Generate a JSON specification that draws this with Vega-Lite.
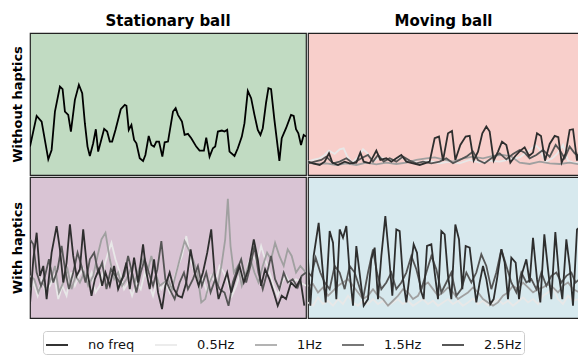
{
"$schema": "https://vega.github.io/schema/vega-lite/v6.json",
"padding": {"left": 10, "top": 13, "right": 0, "bottom": 0},
"background": "white",
"config": {
 "font": "DejaVu Sans",
 "title": {"fontSize": 15, "fontWeight": "bold", "font": "DejaVu Sans", "offset": 0, "color": "#000000"},
 "legend": {"strokeColor": "#cccccc", "cornerRadius": 3, "padding": 2, "fillColor": "white", "labelFont": "DejaVu Sans", "labelFontSize": 13, "labelColor": "#111111", "columnPadding": 16, "labelOffset": 19, "symbolType": "stroke", "symbolSize": 484, "symbolStrokeWidth": 1.6, "title": null}
},
"datasets": {
"tl": [
{"s":"no freq","t":5,"v":85},{"s":"no freq","t":25,"v":177},{"s":"no freq","t":40,"v":160},{"s":"no freq","t":60,"v":47},{"s":"no freq","t":70,"v":75},{"s":"no freq","t":80,"v":190},{"s":"no freq","t":95,"v":265},{"s":"no freq","t":103,"v":257},{"s":"no freq","t":110,"v":190},{"s":"no freq","t":120,"v":180},{"s":"no freq","t":128,"v":130},{"s":"no freq","t":140,"v":225},{"s":"no freq","t":152,"v":270},{"s":"no freq","t":162,"v":245},{"s":"no freq","t":170,"v":155},{"s":"no freq","t":178,"v":85},{"s":"no freq","t":185,"v":57},{"s":"no freq","t":195,"v":95},{"s":"no freq","t":203,"v":137},{"s":"no freq","t":210,"v":70},{"s":"no freq","t":218,"v":100},{"s":"no freq","t":228,"v":138},{"s":"no freq","t":237,"v":130},{"s":"no freq","t":245,"v":100},{"s":"no freq","t":252,"v":100},{"s":"no freq","t":262,"v":135},{"s":"no freq","t":278,"v":197},{"s":"no freq","t":290,"v":210},{"s":"no freq","t":295,"v":207},{"s":"no freq","t":302,"v":135},{"s":"no freq","t":310,"v":150},{"s":"no freq","t":318,"v":105},{"s":"no freq","t":325,"v":95},{"s":"no freq","t":335,"v":50},{"s":"no freq","t":345,"v":42},{"s":"no freq","t":352,"v":60},{"s":"no freq","t":362,"v":117},{"s":"no freq","t":370,"v":90},{"s":"no freq","t":378,"v":85},{"s":"no freq","t":385,"v":100},{"s":"no freq","t":393,"v":100},{"s":"no freq","t":403,"v":55},{"s":"no freq","t":410,"v":98},{"s":"no freq","t":420,"v":100},{"s":"no freq","t":435,"v":190},{"s":"no freq","t":443,"v":200},{"s":"no freq","t":450,"v":180},{"s":"no freq","t":462,"v":160},{"s":"no freq","t":470,"v":120},{"s":"no freq","t":480,"v":123},{"s":"no freq","t":490,"v":110},{"s":"no freq","t":505,"v":85},{"s":"no freq","t":515,"v":73},{"s":"no freq","t":528,"v":73},{"s":"no freq","t":535,"v":112},{"s":"no freq","t":545,"v":55},{"s":"no freq","t":555,"v":80},{"s":"no freq","t":562,"v":85},{"s":"no freq","t":570,"v":130},{"s":"no freq","t":582,"v":133},{"s":"no freq","t":590,"v":130},{"s":"no freq","t":598,"v":135},{"s":"no freq","t":605,"v":70},{"s":"no freq","t":620,"v":57},{"s":"no freq","t":630,"v":80},{"s":"no freq","t":642,"v":115},{"s":"no freq","t":650,"v":155},{"s":"no freq","t":660,"v":252},{"s":"no freq","t":670,"v":230},{"s":"no freq","t":680,"v":180},{"s":"no freq","t":690,"v":135},{"s":"no freq","t":698,"v":120},{"s":"no freq","t":705,"v":140},{"s":"no freq","t":715,"v":217},{"s":"no freq","t":722,"v":260},{"s":"no freq","t":730,"v":257},{"s":"no freq","t":740,"v":165},{"s":"no freq","t":755,"v":42},{"s":"no freq","t":762,"v":110},{"s":"no freq","t":775,"v":140},{"s":"no freq","t":790,"v":180},{"s":"no freq","t":798,"v":177},{"s":"no freq","t":805,"v":137},{"s":"no freq","t":812,"v":125},{"s":"no freq","t":820,"v":90},{"s":"no freq","t":828,"v":120},{"s":"no freq","t":835,"v":115}
],
"tr": [
{"s":"0.5Hz","t":5,"v":40},{"s":"0.5Hz","t":20,"v":45},{"s":"0.5Hz","t":40,"v":50},{"s":"0.5Hz","t":55,"v":60},{"s":"0.5Hz","t":68,"v":73},{"s":"0.5Hz","t":85,"v":63},{"s":"0.5Hz","t":100,"v":77},{"s":"0.5Hz","t":112,"v":80},{"s":"0.5Hz","t":122,"v":57},{"s":"0.5Hz","t":137,"v":37},{"s":"0.5Hz","t":155,"v":53},{"s":"0.5Hz","t":170,"v":77},{"s":"0.5Hz","t":185,"v":63},{"s":"0.5Hz","t":200,"v":40},{"s":"0.5Hz","t":220,"v":53},{"s":"0.5Hz","t":240,"v":47},{"s":"0.5Hz","t":260,"v":43},{"s":"0.5Hz","t":280,"v":55},{"s":"0.5Hz","t":295,"v":47},{"s":"0.5Hz","t":315,"v":40},{"s":"0.5Hz","t":340,"v":37},{"s":"0.5Hz","t":360,"v":43},{"s":"0.5Hz","t":380,"v":40},{"s":"0.5Hz","t":400,"v":35},{"s":"0.5Hz","t":430,"v":40},{"s":"0.5Hz","t":460,"v":35},{"s":"0.5Hz","t":490,"v":45},{"s":"0.5Hz","t":520,"v":37},{"s":"0.5Hz","t":550,"v":43},{"s":"0.5Hz","t":580,"v":40},{"s":"0.5Hz","t":610,"v":47},{"s":"0.5Hz","t":640,"v":53},{"s":"0.5Hz","t":665,"v":70},{"s":"0.5Hz","t":688,"v":90},{"s":"0.5Hz","t":700,"v":77},{"s":"0.5Hz","t":718,"v":40},{"s":"0.5Hz","t":738,"v":50},{"s":"0.5Hz","t":752,"v":63},{"s":"0.5Hz","t":770,"v":90},{"s":"0.5Hz","t":785,"v":43},{"s":"0.5Hz","t":800,"v":37},{"s":"0.5Hz","t":819,"v":35},
{"s":"1Hz","t":5,"v":37},{"s":"1Hz","t":30,"v":33},{"s":"1Hz","t":60,"v":35},{"s":"1Hz","t":90,"v":30},{"s":"1Hz","t":120,"v":35},{"s":"1Hz","t":150,"v":30},{"s":"1Hz","t":180,"v":37},{"s":"1Hz","t":210,"v":32},{"s":"1Hz","t":240,"v":37},{"s":"1Hz","t":270,"v":33},{"s":"1Hz","t":300,"v":37},{"s":"1Hz","t":330,"v":45},{"s":"1Hz","t":360,"v":50},{"s":"1Hz","t":385,"v":53},{"s":"1Hz","t":410,"v":47},{"s":"1Hz","t":440,"v":40},{"s":"1Hz","t":470,"v":50},{"s":"1Hz","t":500,"v":55},{"s":"1Hz","t":530,"v":50},{"s":"1Hz","t":560,"v":57},{"s":"1Hz","t":590,"v":60},{"s":"1Hz","t":615,"v":55},{"s":"1Hz","t":640,"v":37},{"s":"1Hz","t":670,"v":33},{"s":"1Hz","t":700,"v":40},{"s":"1Hz","t":730,"v":35},{"s":"1Hz","t":760,"v":33},{"s":"1Hz","t":790,"v":37},{"s":"1Hz","t":819,"v":32},
{"s":"1.5Hz","t":5,"v":35},{"s":"1.5Hz","t":25,"v":40},{"s":"1.5Hz","t":45,"v":45},{"s":"1.5Hz","t":60,"v":55},{"s":"1.5Hz","t":80,"v":35},{"s":"1.5Hz","t":100,"v":40},{"s":"1.5Hz","t":120,"v":50},{"s":"1.5Hz","t":140,"v":35},{"s":"1.5Hz","t":165,"v":50},{"s":"1.5Hz","t":185,"v":60},{"s":"1.5Hz","t":200,"v":40},{"s":"1.5Hz","t":215,"v":60},{"s":"1.5Hz","t":232,"v":40},{"s":"1.5Hz","t":250,"v":50},{"s":"1.5Hz","t":270,"v":40},{"s":"1.5Hz","t":290,"v":55},{"s":"1.5Hz","t":310,"v":43},{"s":"1.5Hz","t":330,"v":35},{"s":"1.5Hz","t":350,"v":40},{"s":"1.5Hz","t":375,"v":35},{"s":"1.5Hz","t":400,"v":40},{"s":"1.5Hz","t":420,"v":50},{"s":"1.5Hz","t":440,"v":35},{"s":"1.5Hz","t":460,"v":45},{"s":"1.5Hz","t":480,"v":55},{"s":"1.5Hz","t":500,"v":70},{"s":"1.5Hz","t":515,"v":45},{"s":"1.5Hz","t":535,"v":35},{"s":"1.5Hz","t":555,"v":50},{"s":"1.5Hz","t":580,"v":65},{"s":"1.5Hz","t":600,"v":47},{"s":"1.5Hz","t":620,"v":63},{"s":"1.5Hz","t":640,"v":75},{"s":"1.5Hz","t":655,"v":67},{"s":"1.5Hz","t":670,"v":50},{"s":"1.5Hz","t":690,"v":60},{"s":"1.5Hz","t":710,"v":75},{"s":"1.5Hz","t":730,"v":55},{"s":"1.5Hz","t":748,"v":90},{"s":"1.5Hz","t":760,"v":75},{"s":"1.5Hz","t":775,"v":50},{"s":"1.5Hz","t":790,"v":85},{"s":"1.5Hz","t":805,"v":65},{"s":"1.5Hz","t":819,"v":55},
{"s":"2.5Hz","t":5,"v":40},{"s":"2.5Hz","t":20,"v":35},{"s":"2.5Hz","t":40,"v":30},{"s":"2.5Hz","t":55,"v":40},{"s":"2.5Hz","t":68,"v":65},{"s":"2.5Hz","t":78,"v":37},{"s":"2.5Hz","t":95,"v":30},{"s":"2.5Hz","t":115,"v":40},{"s":"2.5Hz","t":130,"v":35},{"s":"2.5Hz","t":150,"v":37},{"s":"2.5Hz","t":162,"v":67},{"s":"2.5Hz","t":172,"v":40},{"s":"2.5Hz","t":190,"v":35},{"s":"2.5Hz","t":210,"v":73},{"s":"2.5Hz","t":222,"v":45},{"s":"2.5Hz","t":240,"v":50},{"s":"2.5Hz","t":255,"v":40},{"s":"2.5Hz","t":270,"v":50},{"s":"2.5Hz","t":285,"v":60},{"s":"2.5Hz","t":300,"v":40},{"s":"2.5Hz","t":320,"v":35},{"s":"2.5Hz","t":340,"v":30},{"s":"2.5Hz","t":355,"v":35},{"s":"2.5Hz","t":370,"v":40},{"s":"2.5Hz","t":385,"v":110},{"s":"2.5Hz","t":398,"v":115},{"s":"2.5Hz","t":410,"v":43},{"s":"2.5Hz","t":425,"v":125},{"s":"2.5Hz","t":437,"v":132},{"s":"2.5Hz","t":447,"v":45},{"s":"2.5Hz","t":462,"v":90},{"s":"2.5Hz","t":478,"v":115},{"s":"2.5Hz","t":490,"v":117},{"s":"2.5Hz","t":502,"v":43},{"s":"2.5Hz","t":515,"v":70},{"s":"2.5Hz","t":528,"v":125},{"s":"2.5Hz","t":540,"v":145},{"s":"2.5Hz","t":550,"v":130},{"s":"2.5Hz","t":562,"v":43},{"s":"2.5Hz","t":575,"v":70},{"s":"2.5Hz","t":587,"v":100},{"s":"2.5Hz","t":600,"v":90},{"s":"2.5Hz","t":612,"v":37},{"s":"2.5Hz","t":627,"v":57},{"s":"2.5Hz","t":642,"v":73},{"s":"2.5Hz","t":655,"v":83},{"s":"2.5Hz","t":668,"v":57},{"s":"2.5Hz","t":680,"v":67},{"s":"2.5Hz","t":692,"v":125},{"s":"2.5Hz","t":704,"v":117},{"s":"2.5Hz","t":716,"v":43},{"s":"2.5Hz","t":730,"v":93},{"s":"2.5Hz","t":745,"v":117},{"s":"2.5Hz","t":756,"v":113},{"s":"2.5Hz","t":766,"v":37},{"s":"2.5Hz","t":778,"v":65},{"s":"2.5Hz","t":790,"v":135},{"s":"2.5Hz","t":800,"v":137},{"s":"2.5Hz","t":812,"v":43},{"s":"2.5Hz","t":819,"v":75}
],
"bl": [
{"s":"0.5Hz","t":5,"v":77},{"s":"0.5Hz","t":15,"v":107},{"s":"0.5Hz","t":28,"v":67},{"s":"0.5Hz","t":40,"v":117},{"s":"0.5Hz","t":52,"v":77},{"s":"0.5Hz","t":65,"v":97},{"s":"0.5Hz","t":78,"v":127},{"s":"0.5Hz","t":90,"v":57},{"s":"0.5Hz","t":102,"v":97},{"s":"0.5Hz","t":115,"v":67},{"s":"0.5Hz","t":128,"v":137},{"s":"0.5Hz","t":140,"v":97},{"s":"0.5Hz","t":152,"v":127},{"s":"0.5Hz","t":165,"v":147},{"s":"0.5Hz","t":178,"v":107},{"s":"0.5Hz","t":190,"v":137},{"s":"0.5Hz","t":202,"v":77},{"s":"0.5Hz","t":215,"v":97},{"s":"0.5Hz","t":228,"v":157},{"s":"0.5Hz","t":240,"v":197},{"s":"0.5Hz","t":250,"v":227},{"s":"0.5Hz","t":262,"v":177},{"s":"0.5Hz","t":275,"v":137},{"s":"0.5Hz","t":288,"v":87},{"s":"0.5Hz","t":300,"v":107},{"s":"0.5Hz","t":312,"v":67},{"s":"0.5Hz","t":325,"v":107},{"s":"0.5Hz","t":338,"v":87},{"s":"0.5Hz","t":350,"v":137},{"s":"0.5Hz","t":362,"v":107},{"s":"0.5Hz","t":375,"v":67},{"s":"0.5Hz","t":388,"v":117},{"s":"0.5Hz","t":400,"v":87},{"s":"0.5Hz","t":412,"v":107},{"s":"0.5Hz","t":425,"v":77},{"s":"0.5Hz","t":438,"v":117},{"s":"0.5Hz","t":450,"v":157},{"s":"0.5Hz","t":462,"v":187},{"s":"0.5Hz","t":475,"v":247},{"s":"0.5Hz","t":488,"v":177},{"s":"0.5Hz","t":500,"v":137},{"s":"0.5Hz","t":512,"v":97},{"s":"0.5Hz","t":525,"v":117},{"s":"0.5Hz","t":538,"v":77},{"s":"0.5Hz","t":550,"v":127},{"s":"0.5Hz","t":562,"v":107},{"s":"0.5Hz","t":575,"v":157},{"s":"0.5Hz","t":588,"v":137},{"s":"0.5Hz","t":600,"v":107},{"s":"0.5Hz","t":612,"v":67},{"s":"0.5Hz","t":625,"v":97},{"s":"0.5Hz","t":638,"v":137},{"s":"0.5Hz","t":650,"v":117},{"s":"0.5Hz","t":662,"v":167},{"s":"0.5Hz","t":675,"v":187},{"s":"0.5Hz","t":688,"v":167},{"s":"0.5Hz","t":700,"v":217},{"s":"0.5Hz","t":712,"v":177},{"s":"0.5Hz","t":725,"v":137},{"s":"0.5Hz","t":738,"v":97},{"s":"0.5Hz","t":750,"v":67},{"s":"0.5Hz","t":762,"v":107},{"s":"0.5Hz","t":775,"v":127},{"s":"0.5Hz","t":790,"v":97},{"s":"0.5Hz","t":805,"v":117},{"s":"0.5Hz","t":818,"v":107},{"s":"0.5Hz","t":835,"v":97},
{"s":"1Hz","t":5,"v":127},{"s":"1Hz","t":18,"v":117},{"s":"1Hz","t":30,"v":77},{"s":"1Hz","t":42,"v":107},{"s":"1Hz","t":55,"v":87},{"s":"1Hz","t":68,"v":117},{"s":"1Hz","t":80,"v":157},{"s":"1Hz","t":92,"v":77},{"s":"1Hz","t":105,"v":107},{"s":"1Hz","t":118,"v":147},{"s":"1Hz","t":130,"v":87},{"s":"1Hz","t":142,"v":127},{"s":"1Hz","t":155,"v":107},{"s":"1Hz","t":168,"v":137},{"s":"1Hz","t":180,"v":97},{"s":"1Hz","t":195,"v":127},{"s":"1Hz","t":208,"v":187},{"s":"1Hz","t":220,"v":237},{"s":"1Hz","t":232,"v":257},{"s":"1Hz","t":245,"v":177},{"s":"1Hz","t":258,"v":117},{"s":"1Hz","t":270,"v":137},{"s":"1Hz","t":282,"v":97},{"s":"1Hz","t":295,"v":117},{"s":"1Hz","t":308,"v":147},{"s":"1Hz","t":320,"v":107},{"s":"1Hz","t":332,"v":147},{"s":"1Hz","t":345,"v":177},{"s":"1Hz","t":358,"v":137},{"s":"1Hz","t":370,"v":187},{"s":"1Hz","t":382,"v":137},{"s":"1Hz","t":395,"v":97},{"s":"1Hz","t":408,"v":107},{"s":"1Hz","t":420,"v":117},{"s":"1Hz","t":432,"v":87},{"s":"1Hz","t":445,"v":137},{"s":"1Hz","t":458,"v":187},{"s":"1Hz","t":470,"v":232},{"s":"1Hz","t":482,"v":207},{"s":"1Hz","t":495,"v":177},{"s":"1Hz","t":508,"v":137},{"s":"1Hz","t":520,"v":47},{"s":"1Hz","t":532,"v":57},{"s":"1Hz","t":545,"v":107},{"s":"1Hz","t":558,"v":137},{"s":"1Hz","t":570,"v":97},{"s":"1Hz","t":582,"v":167},{"s":"1Hz","t":592,"v":237},{"s":"1Hz","t":600,"v":359},{"s":"1Hz","t":608,"v":217},{"s":"1Hz","t":618,"v":137},{"s":"1Hz","t":630,"v":157},{"s":"1Hz","t":642,"v":97},{"s":"1Hz","t":655,"v":137},{"s":"1Hz","t":668,"v":177},{"s":"1Hz","t":680,"v":137},{"s":"1Hz","t":692,"v":107},{"s":"1Hz","t":705,"v":157},{"s":"1Hz","t":718,"v":197},{"s":"1Hz","t":730,"v":177},{"s":"1Hz","t":742,"v":227},{"s":"1Hz","t":755,"v":187},{"s":"1Hz","t":768,"v":157},{"s":"1Hz","t":780,"v":207},{"s":"1Hz","t":792,"v":187},{"s":"1Hz","t":805,"v":137},{"s":"1Hz","t":818,"v":157},{"s":"1Hz","t":835,"v":137},
{"s":"1.5Hz","t":5,"v":237},{"s":"1.5Hz","t":15,"v":222},{"s":"1.5Hz","t":25,"v":137},{"s":"1.5Hz","t":38,"v":97},{"s":"1.5Hz","t":50,"v":127},{"s":"1.5Hz","t":62,"v":177},{"s":"1.5Hz","t":75,"v":107},{"s":"1.5Hz","t":88,"v":147},{"s":"1.5Hz","t":100,"v":217},{"s":"1.5Hz","t":112,"v":137},{"s":"1.5Hz","t":122,"v":87},{"s":"1.5Hz","t":135,"v":137},{"s":"1.5Hz","t":148,"v":197},{"s":"1.5Hz","t":160,"v":157},{"s":"1.5Hz","t":172,"v":107},{"s":"1.5Hz","t":185,"v":177},{"s":"1.5Hz","t":198,"v":197},{"s":"1.5Hz","t":210,"v":137},{"s":"1.5Hz","t":222,"v":167},{"s":"1.5Hz","t":235,"v":87},{"s":"1.5Hz","t":248,"v":147},{"s":"1.5Hz","t":262,"v":127},{"s":"1.5Hz","t":275,"v":107},{"s":"1.5Hz","t":288,"v":127},{"s":"1.5Hz","t":300,"v":187},{"s":"1.5Hz","t":312,"v":137},{"s":"1.5Hz","t":325,"v":77},{"s":"1.5Hz","t":338,"v":137},{"s":"1.5Hz","t":350,"v":177},{"s":"1.5Hz","t":362,"v":137},{"s":"1.5Hz","t":375,"v":97},{"s":"1.5Hz","t":388,"v":147},{"s":"1.5Hz","t":400,"v":232},{"s":"1.5Hz","t":412,"v":117},{"s":"1.5Hz","t":425,"v":87},{"s":"1.5Hz","t":440,"v":57},{"s":"1.5Hz","t":455,"v":107},{"s":"1.5Hz","t":468,"v":137},{"s":"1.5Hz","t":480,"v":87},{"s":"1.5Hz","t":495,"v":117},{"s":"1.5Hz","t":510,"v":157},{"s":"1.5Hz","t":522,"v":97},{"s":"1.5Hz","t":535,"v":137},{"s":"1.5Hz","t":548,"v":77},{"s":"1.5Hz","t":562,"v":117},{"s":"1.5Hz","t":575,"v":87},{"s":"1.5Hz","t":590,"v":77},{"s":"1.5Hz","t":602,"v":37},{"s":"1.5Hz","t":615,"v":107},{"s":"1.5Hz","t":628,"v":147},{"s":"1.5Hz","t":640,"v":177},{"s":"1.5Hz","t":655,"v":107},{"s":"1.5Hz","t":668,"v":157},{"s":"1.5Hz","t":680,"v":217},{"s":"1.5Hz","t":692,"v":137},{"s":"1.5Hz","t":705,"v":87},{"s":"1.5Hz","t":718,"v":137},{"s":"1.5Hz","t":730,"v":187},{"s":"1.5Hz","t":742,"v":117},{"s":"1.5Hz","t":755,"v":87},{"s":"1.5Hz","t":768,"v":137},{"s":"1.5Hz","t":780,"v":107},{"s":"1.5Hz","t":795,"v":117},{"s":"1.5Hz","t":810,"v":92},{"s":"1.5Hz","t":822,"v":127},{"s":"1.5Hz","t":835,"v":137},
{"s":"2.5Hz","t":5,"v":42},{"s":"2.5Hz","t":15,"v":177},{"s":"2.5Hz","t":25,"v":257},{"s":"2.5Hz","t":35,"v":127},{"s":"2.5Hz","t":45,"v":157},{"s":"2.5Hz","t":55,"v":57},{"s":"2.5Hz","t":70,"v":197},{"s":"2.5Hz","t":85,"v":277},{"s":"2.5Hz","t":95,"v":207},{"s":"2.5Hz","t":105,"v":107},{"s":"2.5Hz","t":115,"v":167},{"s":"2.5Hz","t":125,"v":282},{"s":"2.5Hz","t":135,"v":187},{"s":"2.5Hz","t":145,"v":127},{"s":"2.5Hz","t":155,"v":147},{"s":"2.5Hz","t":165,"v":267},{"s":"2.5Hz","t":178,"v":137},{"s":"2.5Hz","t":190,"v":67},{"s":"2.5Hz","t":200,"v":117},{"s":"2.5Hz","t":212,"v":147},{"s":"2.5Hz","t":222,"v":97},{"s":"2.5Hz","t":232,"v":137},{"s":"2.5Hz","t":245,"v":97},{"s":"2.5Hz","t":258,"v":157},{"s":"2.5Hz","t":270,"v":87},{"s":"2.5Hz","t":282,"v":117},{"s":"2.5Hz","t":295,"v":167},{"s":"2.5Hz","t":305,"v":87},{"s":"2.5Hz","t":318,"v":182},{"s":"2.5Hz","t":330,"v":107},{"s":"2.5Hz","t":345,"v":222},{"s":"2.5Hz","t":355,"v":137},{"s":"2.5Hz","t":365,"v":87},{"s":"2.5Hz","t":378,"v":177},{"s":"2.5Hz","t":390,"v":77},{"s":"2.5Hz","t":402,"v":27},{"s":"2.5Hz","t":412,"v":97},{"s":"2.5Hz","t":425,"v":137},{"s":"2.5Hz","t":438,"v":87},{"s":"2.5Hz","t":450,"v":67},{"s":"2.5Hz","t":462,"v":62},{"s":"2.5Hz","t":475,"v":107},{"s":"2.5Hz","t":488,"v":207},{"s":"2.5Hz","t":500,"v":137},{"s":"2.5Hz","t":512,"v":97},{"s":"2.5Hz","t":525,"v":137},{"s":"2.5Hz","t":538,"v":197},{"s":"2.5Hz","t":550,"v":267},{"s":"2.5Hz","t":560,"v":137},{"s":"2.5Hz","t":572,"v":57},{"s":"2.5Hz","t":585,"v":97},{"s":"2.5Hz","t":598,"v":137},{"s":"2.5Hz","t":610,"v":77},{"s":"2.5Hz","t":622,"v":117},{"s":"2.5Hz","t":635,"v":157},{"s":"2.5Hz","t":648,"v":107},{"s":"2.5Hz","t":662,"v":147},{"s":"2.5Hz","t":678,"v":237},{"s":"2.5Hz","t":690,"v":177},{"s":"2.5Hz","t":700,"v":97},{"s":"2.5Hz","t":712,"v":147},{"s":"2.5Hz","t":725,"v":117},{"s":"2.5Hz","t":738,"v":77},{"s":"2.5Hz","t":750,"v":37},{"s":"2.5Hz","t":762,"v":67},{"s":"2.5Hz","t":775,"v":57},{"s":"2.5Hz","t":790,"v":107},{"s":"2.5Hz","t":805,"v":92},{"s":"2.5Hz","t":818,"v":117},{"s":"2.5Hz","t":830,"v":37}
],
"br": [
{"s":"0.5Hz","t":5,"v":47},{"s":"0.5Hz","t":20,"v":37},{"s":"0.5Hz","t":35,"v":62},{"s":"0.5Hz","t":50,"v":42},{"s":"0.5Hz","t":65,"v":52},{"s":"0.5Hz","t":80,"v":37},{"s":"0.5Hz","t":95,"v":57},{"s":"0.5Hz","t":110,"v":42},{"s":"0.5Hz","t":125,"v":67},{"s":"0.5Hz","t":140,"v":47},{"s":"0.5Hz","t":155,"v":37},{"s":"0.5Hz","t":170,"v":52},{"s":"0.5Hz","t":185,"v":42},{"s":"0.5Hz","t":200,"v":57},{"s":"0.5Hz","t":215,"v":42},{"s":"0.5Hz","t":230,"v":52},{"s":"0.5Hz","t":245,"v":37},{"s":"0.5Hz","t":260,"v":47},{"s":"0.5Hz","t":275,"v":57},{"s":"0.5Hz","t":290,"v":42},{"s":"0.5Hz","t":305,"v":52},{"s":"0.5Hz","t":320,"v":37},{"s":"0.5Hz","t":335,"v":47},{"s":"0.5Hz","t":350,"v":57},{"s":"0.5Hz","t":365,"v":42},{"s":"0.5Hz","t":380,"v":52},{"s":"0.5Hz","t":395,"v":37},{"s":"0.5Hz","t":410,"v":47},{"s":"0.5Hz","t":425,"v":57},{"s":"0.5Hz","t":440,"v":42},{"s":"0.5Hz","t":455,"v":52},{"s":"0.5Hz","t":470,"v":37},{"s":"0.5Hz","t":485,"v":47},{"s":"0.5Hz","t":500,"v":59},{"s":"0.5Hz","t":515,"v":42},{"s":"0.5Hz","t":530,"v":52},{"s":"0.5Hz","t":545,"v":37},{"s":"0.5Hz","t":560,"v":45},{"s":"0.5Hz","t":575,"v":57},{"s":"0.5Hz","t":590,"v":42},{"s":"0.5Hz","t":605,"v":52},{"s":"0.5Hz","t":620,"v":37},{"s":"0.5Hz","t":635,"v":49},{"s":"0.5Hz","t":650,"v":62},{"s":"0.5Hz","t":665,"v":47},{"s":"0.5Hz","t":680,"v":57},{"s":"0.5Hz","t":695,"v":42},{"s":"0.5Hz","t":710,"v":67},{"s":"0.5Hz","t":725,"v":77},{"s":"0.5Hz","t":740,"v":92},{"s":"0.5Hz","t":755,"v":57},{"s":"0.5Hz","t":770,"v":42},{"s":"0.5Hz","t":785,"v":67},{"s":"0.5Hz","t":800,"v":52},{"s":"0.5Hz","t":819,"v":57},
{"s":"1Hz","t":5,"v":97},{"s":"1Hz","t":20,"v":102},{"s":"1Hz","t":35,"v":77},{"s":"1Hz","t":50,"v":92},{"s":"1Hz","t":65,"v":67},{"s":"1Hz","t":80,"v":82},{"s":"1Hz","t":95,"v":97},{"s":"1Hz","t":110,"v":107},{"s":"1Hz","t":125,"v":117},{"s":"1Hz","t":140,"v":97},{"s":"1Hz","t":155,"v":77},{"s":"1Hz","t":170,"v":57},{"s":"1Hz","t":185,"v":67},{"s":"1Hz","t":200,"v":87},{"s":"1Hz","t":215,"v":67},{"s":"1Hz","t":230,"v":57},{"s":"1Hz","t":245,"v":37},{"s":"1Hz","t":260,"v":52},{"s":"1Hz","t":275,"v":67},{"s":"1Hz","t":290,"v":87},{"s":"1Hz","t":305,"v":77},{"s":"1Hz","t":320,"v":57},{"s":"1Hz","t":335,"v":67},{"s":"1Hz","t":350,"v":97},{"s":"1Hz","t":365,"v":107},{"s":"1Hz","t":380,"v":87},{"s":"1Hz","t":395,"v":67},{"s":"1Hz","t":410,"v":77},{"s":"1Hz","t":425,"v":92},{"s":"1Hz","t":440,"v":77},{"s":"1Hz","t":455,"v":57},{"s":"1Hz","t":470,"v":67},{"s":"1Hz","t":485,"v":77},{"s":"1Hz","t":500,"v":92},{"s":"1Hz","t":515,"v":77},{"s":"1Hz","t":530,"v":57},{"s":"1Hz","t":545,"v":47},{"s":"1Hz","t":560,"v":37},{"s":"1Hz","t":575,"v":47},{"s":"1Hz","t":590,"v":67},{"s":"1Hz","t":605,"v":77},{"s":"1Hz","t":620,"v":97},{"s":"1Hz","t":635,"v":87},{"s":"1Hz","t":650,"v":107},{"s":"1Hz","t":665,"v":92},{"s":"1Hz","t":680,"v":77},{"s":"1Hz","t":695,"v":87},{"s":"1Hz","t":710,"v":92},{"s":"1Hz","t":725,"v":102},{"s":"1Hz","t":740,"v":92},{"s":"1Hz","t":755,"v":77},{"s":"1Hz","t":770,"v":97},{"s":"1Hz","t":785,"v":107},{"s":"1Hz","t":800,"v":87},{"s":"1Hz","t":819,"v":77},
{"s":"1.5Hz","t":5,"v":137},{"s":"1.5Hz","t":15,"v":127},{"s":"1.5Hz","t":28,"v":182},{"s":"1.5Hz","t":42,"v":137},{"s":"1.5Hz","t":55,"v":107},{"s":"1.5Hz","t":70,"v":87},{"s":"1.5Hz","t":85,"v":157},{"s":"1.5Hz","t":100,"v":137},{"s":"1.5Hz","t":115,"v":87},{"s":"1.5Hz","t":130,"v":157},{"s":"1.5Hz","t":145,"v":137},{"s":"1.5Hz","t":158,"v":97},{"s":"1.5Hz","t":170,"v":57},{"s":"1.5Hz","t":185,"v":137},{"s":"1.5Hz","t":200,"v":207},{"s":"1.5Hz","t":212,"v":137},{"s":"1.5Hz","t":225,"v":87},{"s":"1.5Hz","t":240,"v":107},{"s":"1.5Hz","t":255,"v":137},{"s":"1.5Hz","t":270,"v":87},{"s":"1.5Hz","t":285,"v":107},{"s":"1.5Hz","t":300,"v":137},{"s":"1.5Hz","t":315,"v":187},{"s":"1.5Hz","t":330,"v":147},{"s":"1.5Hz","t":345,"v":87},{"s":"1.5Hz","t":360,"v":137},{"s":"1.5Hz","t":375,"v":187},{"s":"1.5Hz","t":390,"v":147},{"s":"1.5Hz","t":405,"v":77},{"s":"1.5Hz","t":420,"v":107},{"s":"1.5Hz","t":435,"v":137},{"s":"1.5Hz","t":450,"v":67},{"s":"1.5Hz","t":465,"v":87},{"s":"1.5Hz","t":480,"v":137},{"s":"1.5Hz","t":495,"v":107},{"s":"1.5Hz","t":510,"v":137},{"s":"1.5Hz","t":525,"v":192},{"s":"1.5Hz","t":540,"v":157},{"s":"1.5Hz","t":555,"v":87},{"s":"1.5Hz","t":570,"v":137},{"s":"1.5Hz","t":585,"v":207},{"s":"1.5Hz","t":600,"v":157},{"s":"1.5Hz","t":615,"v":107},{"s":"1.5Hz","t":630,"v":77},{"s":"1.5Hz","t":645,"v":137},{"s":"1.5Hz","t":660,"v":107},{"s":"1.5Hz","t":675,"v":117},{"s":"1.5Hz","t":690,"v":87},{"s":"1.5Hz","t":705,"v":137},{"s":"1.5Hz","t":720,"v":97},{"s":"1.5Hz","t":735,"v":127},{"s":"1.5Hz","t":750,"v":137},{"s":"1.5Hz","t":765,"v":107},{"s":"1.5Hz","t":780,"v":127},{"s":"1.5Hz","t":795,"v":137},{"s":"1.5Hz","t":808,"v":107},{"s":"1.5Hz","t":819,"v":117},
{"s":"2.5Hz","t":5,"v":177},{"s":"2.5Hz","t":12,"v":37},{"s":"2.5Hz","t":22,"v":187},{"s":"2.5Hz","t":37,"v":287},{"s":"2.5Hz","t":48,"v":157},{"s":"2.5Hz","t":58,"v":47},{"s":"2.5Hz","t":70,"v":262},{"s":"2.5Hz","t":80,"v":227},{"s":"2.5Hz","t":90,"v":57},{"s":"2.5Hz","t":100,"v":267},{"s":"2.5Hz","t":110,"v":242},{"s":"2.5Hz","t":120,"v":277},{"s":"2.5Hz","t":130,"v":137},{"s":"2.5Hz","t":140,"v":37},{"s":"2.5Hz","t":150,"v":217},{"s":"2.5Hz","t":162,"v":117},{"s":"2.5Hz","t":172,"v":37},{"s":"2.5Hz","t":185,"v":57},{"s":"2.5Hz","t":195,"v":177},{"s":"2.5Hz","t":205,"v":212},{"s":"2.5Hz","t":215,"v":57},{"s":"2.5Hz","t":225,"v":187},{"s":"2.5Hz","t":237,"v":307},{"s":"2.5Hz","t":248,"v":187},{"s":"2.5Hz","t":258,"v":67},{"s":"2.5Hz","t":270,"v":267},{"s":"2.5Hz","t":280,"v":262},{"s":"2.5Hz","t":290,"v":117},{"s":"2.5Hz","t":300,"v":47},{"s":"2.5Hz","t":312,"v":147},{"s":"2.5Hz","t":322,"v":222},{"s":"2.5Hz","t":332,"v":197},{"s":"2.5Hz","t":342,"v":87},{"s":"2.5Hz","t":352,"v":57},{"s":"2.5Hz","t":362,"v":217},{"s":"2.5Hz","t":375,"v":222},{"s":"2.5Hz","t":385,"v":137},{"s":"2.5Hz","t":395,"v":57},{"s":"2.5Hz","t":405,"v":262},{"s":"2.5Hz","t":415,"v":252},{"s":"2.5Hz","t":425,"v":127},{"s":"2.5Hz","t":435,"v":57},{"s":"2.5Hz","t":447,"v":282},{"s":"2.5Hz","t":458,"v":237},{"s":"2.5Hz","t":468,"v":87},{"s":"2.5Hz","t":478,"v":217},{"s":"2.5Hz","t":490,"v":212},{"s":"2.5Hz","t":500,"v":127},{"s":"2.5Hz","t":510,"v":47},{"s":"2.5Hz","t":520,"v":107},{"s":"2.5Hz","t":530,"v":157},{"s":"2.5Hz","t":540,"v":117},{"s":"2.5Hz","t":552,"v":42},{"s":"2.5Hz","t":562,"v":57},{"s":"2.5Hz","t":572,"v":117},{"s":"2.5Hz","t":585,"v":207},{"s":"2.5Hz","t":595,"v":167},{"s":"2.5Hz","t":605,"v":57},{"s":"2.5Hz","t":615,"v":182},{"s":"2.5Hz","t":628,"v":167},{"s":"2.5Hz","t":638,"v":57},{"s":"2.5Hz","t":648,"v":137},{"s":"2.5Hz","t":660,"v":177},{"s":"2.5Hz","t":670,"v":107},{"s":"2.5Hz","t":680,"v":242},{"s":"2.5Hz","t":692,"v":117},{"s":"2.5Hz","t":702,"v":47},{"s":"2.5Hz","t":714,"v":252},{"s":"2.5Hz","t":725,"v":147},{"s":"2.5Hz","t":735,"v":57},{"s":"2.5Hz","t":747,"v":259},{"s":"2.5Hz","t":758,"v":127},{"s":"2.5Hz","t":768,"v":57},{"s":"2.5Hz","t":780,"v":237},{"s":"2.5Hz","t":790,"v":157},{"s":"2.5Hz","t":800,"v":37},{"s":"2.5Hz","t":812,"v":267},{"s":"2.5Hz","t":819,"v":272}
]
},
"columns": 2,
"spacing": 0,
"resolve": {"scale": {"color": "shared"}, "legend": {"color": "shared"}},
"concat": [
{
 "width": 276, "height": 142,
 "view": {"fill": "#c1dbc2", "stroke": "#222222", "strokeWidth": 1.2},
 "title": {"text": "Stationary ball"},
 "data": {"name": "tl"},
 "mark": {"type": "line", "clip": true, "strokeWidth": 1.8},
 "encoding": {
  "x": {"field": "t", "type": "quantitative", "scale": {"domain": [5, 835]}, "axis": null},
  "y": {"field": "v", "type": "quantitative", "scale": {"domain": [0, 425]}, "axis": {"title": "Without haptics", "labels": false, "ticks": false, "domain": false, "grid": false, "titleFontSize": 13, "titleFontWeight": "bold", "titleFont": "DejaVu Sans", "titleColor": "#000000", "titlePadding": 6}},
  "color": {"field": "s", "type": "nominal", "scale": {"domain": ["no freq", "0.5Hz", "1Hz", "1.5Hz", "2.5Hz"], "range": ["#000000", "#e8e8e8", "#a0a0a0", "#555555", "#2e2e2e"]}, "legend": {"orient": "none", "legendX": 13, "legendY": 298, "direction": "horizontal"}}
 }
},
{
 "width": 271, "height": 142,
 "view": {"fill": "#f8cfcb", "stroke": "#222222", "strokeWidth": 1.2},
 "title": {"text": "Moving ball"},
 "data": {"name": "tr"},
 "mark": {"type": "line", "clip": true, "strokeWidth": 1.8},
 "encoding": {
  "x": {"field": "t", "type": "quantitative", "scale": {"domain": [5, 818]}, "axis": null},
  "y": {"field": "v", "type": "quantitative", "scale": {"domain": [0, 425]}, "axis": null},
  "color": {"field": "s", "type": "nominal", "scale": {"domain": ["no freq", "0.5Hz", "1Hz", "1.5Hz", "2.5Hz"], "range": ["#000000", "#e8e8e8", "#a0a0a0", "#555555", "#2e2e2e"]}, "legend": {"orient": "none", "legendX": 13, "legendY": 298, "direction": "horizontal"}}
 }
},
{
 "width": 276, "height": 141,
 "view": {"fill": "#d9c4d4", "stroke": "#222222", "strokeWidth": 1.2},
 "data": {"name": "bl"},
 "mark": {"type": "line", "clip": true, "strokeWidth": 1.8},
 "encoding": {
  "x": {"field": "t", "type": "quantitative", "scale": {"domain": [5, 835]}, "axis": null},
  "y": {"field": "v", "type": "quantitative", "scale": {"domain": [0, 425]}, "axis": {"title": "With haptics", "labels": false, "ticks": false, "domain": false, "grid": false, "titleFontSize": 13, "titleFontWeight": "bold", "titleFont": "DejaVu Sans", "titleColor": "#000000", "titlePadding": 6}},
  "color": {"field": "s", "type": "nominal", "scale": {"domain": ["no freq", "0.5Hz", "1Hz", "1.5Hz", "2.5Hz"], "range": ["#000000", "#e8e8e8", "#a0a0a0", "#555555", "#2e2e2e"]}, "legend": {"orient": "none", "legendX": 13, "legendY": 298, "direction": "horizontal"}}
 }
},
{
 "width": 271, "height": 141,
 "view": {"fill": "#d7e9ee", "stroke": "#222222", "strokeWidth": 1.2},
 "data": {"name": "br"},
 "mark": {"type": "line", "clip": true, "strokeWidth": 1.8},
 "encoding": {
  "x": {"field": "t", "type": "quantitative", "scale": {"domain": [5, 818]}, "axis": null},
  "y": {"field": "v", "type": "quantitative", "scale": {"domain": [0, 425]}, "axis": null},
  "color": {"field": "s", "type": "nominal", "scale": {"domain": ["no freq", "0.5Hz", "1Hz", "1.5Hz", "2.5Hz"], "range": ["#000000", "#e8e8e8", "#a0a0a0", "#555555", "#2e2e2e"]}, "legend": {"orient": "none", "legendX": 13, "legendY": 298, "direction": "horizontal"}}
 }
}
]
}
